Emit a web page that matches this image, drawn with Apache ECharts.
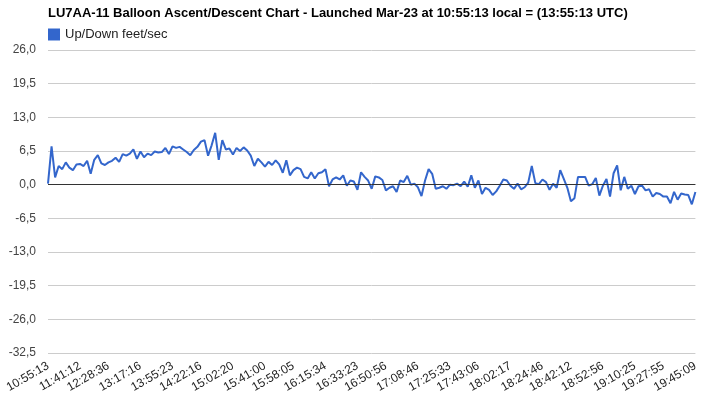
<!DOCTYPE html>
<html>
<head>
<meta charset="utf-8">
<script src="https://cdn.jsdelivr.net/npm/echarts@6/dist/echarts.min.js"></script>
<style>
  html, body { margin: 0; padding: 0; background: #fff; }
  #chart { width: 701px; height: 399px; }
</style>
</head>
<body>
<div id="chart"></div>
<script>
// Time labels along the x axis
const shownLabels = [
  "10:55:13", "11:41:12", "12:28:36", "13:17:16", "13:55:23", "14:22:16", "15:02:20",
  "15:41:00", "15:58:05", "16:15:34", "16:33:23", "16:50:56", "17:08:46", "17:25:33",
  "17:43:06", "18:02:17", "18:24:46", "18:42:12", "18:52:56", "19:10:25", "19:27:55", "19:45:09"
];

// Up/Down speed, feet/sec
const upDown = [
  0.2, 7.4, 1.4, 3.6, 3.0, 4.3, 3.3, 2.8, 3.9, 4.0,
  3.6, 4.6, 2.1, 4.8, 5.7, 4.1, 3.8, 4.3, 4.6, 5.2,
  4.4, 5.9, 5.6, 6.0, 6.8, 5.0, 6.4, 5.3, 6.0, 5.7,
  6.4, 6.2, 6.3, 7.1, 5.9, 7.4, 7.1, 7.3, 6.8, 6.3,
  5.7, 6.7, 7.3, 8.3, 8.6, 5.6, 7.6, 10.0, 4.8, 8.6,
  6.8, 7.0, 5.8, 7.1, 6.5, 7.2, 6.6, 5.6, 3.6, 5.0,
  4.3, 3.5, 4.4, 3.8, 4.7, 3.9, 2.3, 4.7, 1.8, 2.8,
  3.3, 3.0, 1.5, 1.2, 2.4, 1.2, 2.2, 2.4, 3.0, -0.3,
  1.0, 1.4, 1.0, 1.8, -0.2, 0.8, 0.6, -1.0, 2.4, 1.5,
  0.8, -0.8, 1.6, 1.4, 0.9, -1.1, -0.6, -0.3, -1.4, 0.8,
  0.5, 1.7, 0.0, 0.2, -0.5, -2.2, 0.8, 3.0, 2.1, -0.8,
  -0.6, -0.3, -0.8, 0.0, -0.1, 0.2, -0.3, 0.6, -0.4, 1.8,
  -0.6, 0.8, -1.8, -0.6, -1.0, -2.0, -1.3, -0.2, 1.0, 0.8,
  -0.2, -0.8, 0.2, -0.9, -0.5, 0.4, 3.6, 0.3, 0.1, 1.0,
  0.5, -1.0, 0.2, -0.6, 2.8, 1.1, -0.6, -3.2, -2.6, 1.5,
  1.5, 1.5, -0.2, 0.1, 1.3, -2.1, -0.2, 1.1, -2.3, 2.2,
  3.7, -1.1, 1.5, -0.8, -0.2, -1.8, -0.3, -0.2, -1.1, -0.9,
  -2.3, -1.6, -1.8, -2.3, -2.3, -3.6, -1.4, -2.9, -1.7, -1.9,
  -2.0, -3.8, -1.4
];

const yTicks = { min: -32.5, max: 26, step: 6.5 };

// one category per sample; the time labels are spread evenly over the samples
const last = upDown.length - 1;
const categories = upDown.map(() => '');
shownLabels.forEach((t, j) => {
  categories[Math.round(j * last / (shownLabels.length - 1))] = t;
});

const chart = echarts.init(document.getElementById('chart'));
chart.setOption({
  animation: false,
  textStyle: { fontFamily: 'Arial, "Liberation Sans", sans-serif' },
  title: {
    text: 'LU7AA-11 Balloon Ascent/Descent Chart - Launched Mar-23 at 10:55:13 local = (13:55:13 UTC)',
    left: 43,
    top: 2,
    textStyle: { fontSize: 13, fontWeight: 'bold', color: '#000' }
  },
  legend: {
    data: ['Up/Down feet/sec'],
    left: 43,
    top: 23,
    icon: 'rect',
    itemWidth: 12,
    itemHeight: 12,
    itemGap: 6,
    textStyle: { fontSize: 13, color: '#222' }
  },
  grid: { left: 48, right: 2, top: 50, bottom: 46 },
  xAxis: {
    type: 'category',
    boundaryGap: false,
    data: categories,
    axisTick: { show: false },
    axisLine: { show: false },
    axisLabel: {
      interval: (i, v) => v !== '',
      rotate: 30,
      margin: 12,
      fontSize: 12,
      color: '#222'
    },
    splitLine: { show: false }
  },
  yAxis: {
    type: 'value',
    min: yTicks.min,
    max: yTicks.max,
    interval: yTicks.step,
    axisLine: { show: false },
    axisTick: { show: false },
    axisLabel: {
      fontSize: 12,
      color: '#444',
      margin: 12,
      formatter: v => v.toFixed(1).replace('.', ',')
    },
    splitLine: { lineStyle: { color: '#cccccc', width: 1 } }
  },
  series: [{
    name: 'Up/Down feet/sec',
    type: 'line',
    data: upDown,
    symbol: 'none',
    color: '#3366cc',
    lineStyle: { width: 2, color: '#3366cc' },
    markLine: {
      silent: true,
      symbol: 'none',
      label: { show: false },
      lineStyle: { color: '#333', width: 1, type: 'solid' },
      data: [{ yAxis: 0 }]
    }
  }]
});
</script>
</body>
</html>
